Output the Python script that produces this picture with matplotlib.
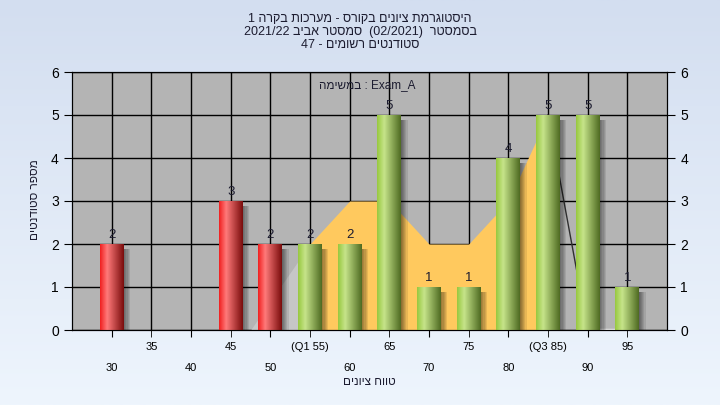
import re
import numpy as np
import matplotlib
matplotlib.use("Agg")
import matplotlib.pyplot as plt
from matplotlib.patches import Rectangle

plt.rcParams['font.family'] = ['Liberation Sans', 'DejaVu Sans']

# data
grades = [30, 35, 40, 45, 50, 55, 60, 65, 70, 75, 80, 85, 90, 95]
counts = [2, 0, 0, 3, 2, 2, 2, 5, 1, 1, 4, 5, 5, 1]
tick_text = ["30", "35", "40", "45", "50", "(Q1 55)", "60", "65", "70", "75",
             "80", "(Q3 85)", "90", "95"]
pass_grade = 55
iqr_x = [55, 60, 65, 70, 75, 80, 85]
iqr_y = [2, 3, 3, 2, 2, 3, 5]
tail_x = [47.5, 55, 55]
tail_y = [0, 2, 0]

title_lines = ["היסטוגרמת ציונים בקורס - מערכות בקרה 1",
               "בסמסטר  (02/2021)  סמסטר אביב 2021/22",
               "סטודנטים רשומים - 47"]
ylabel = "מספר סטודנטים"
xlabel = "טווח ציונים"
task_word = "במשימה"
task_name = "Exam_A"


def rtl(s):
    # matplotlib has no bidi support, so flip the text to visual order
    out = s[::-1]
    out = re.sub(r'[0-9A-Za-z_/.]+', lambda m: m.group(0)[::-1], out)
    return out.translate(str.maketrans('()', ')('))


def gradient(c_left, c_mid, c_right, n=64):
    t = np.linspace(0, 1, n)
    cols = []
    for v in t:
        if v < 0.3:
            a, b, f = c_left, c_mid, v / 0.3
        else:
            a, b, f = c_mid, c_right, (v - 0.3) / 0.7
        cols.append([a[i] + (b[i] - a[i]) * f for i in range(3)])
    return np.array(cols)[None, :, :]


def rgb(h):
    return [int(h[i:i + 2], 16) / 255 for i in (1, 3, 5)]


green = gradient(rgb("#98c840"), rgb("#c6e48a"), rgb("#4f6b22"))
red = gradient(rgb("#f02020"), rgb("#ff7a7a"), rgb("#7a0c0c"))

fig = plt.figure(figsize=(7.2, 4.05), dpi=100)

# background gradient
bg = fig.add_axes([0, 0, 1, 1], zorder=-10)
grad = np.linspace(0, 1, 256)[:, None]
top_c = np.array(rgb("#d3def0"))
bot_c = np.array(rgb("#eef5fd"))
bg.imshow(top_c + (bot_c - top_c) * grad[:, :, None], aspect='auto',
          extent=(0, 1, 0, 1))
bg.axis('off')

ax = fig.add_axes([72 / 720, 75 / 405, 595 / 720, 258 / 405])
ax.set_facecolor("#b4b4b4")
ax.set_axisbelow(True)

ax.fill_between(tail_x, tail_y, color="#c6c6c6", lw=0, zorder=1)
ax.fill_between(iqr_x, iqr_y, color="#ffc95e", lw=0, zorder=1)
ax.plot([85, 90], [5, 0], color="#303030", lw=1, zorder=1.5)
ax.plot([90, 95], [0.02, 0.02], color="#f0f0f0", lw=1, zorder=1.5)

w = 3.0
for g, c in zip(grades, counts):
    if c == 0:
        continue
    # soft shadow
    for k in range(6):
        ax.add_patch(Rectangle((g + w / 2 - 0.2, 0), 0.25 + k * 0.15, c - 0.12,
                               color="black", alpha=0.09, lw=0, zorder=2))
    img = red if g < pass_grade else green
    ax.imshow(img, extent=(g - w / 2, g + w / 2, 0, c), aspect='auto',
              interpolation='bilinear', zorder=3)
    ax.text(g, c + 0.08, str(c), ha='center', va='bottom', fontsize=9.5,
            color="#1c1c30", zorder=4)

ax.set_xlim(25, 100)
ax.set_ylim(0, 6)
ax.set_xticks(grades[0::2], labels=tick_text[0::2])
ax.set_xticks(grades[1::2], labels=tick_text[1::2], minor=True)
ax.tick_params(axis='x', which='major', length=5, pad=19, labelsize=8)
ax.tick_params(axis='x', which='minor', length=5, pad=4, labelsize=8)
ax.set_yticks(range(7))
ax.tick_params(axis='y', length=6, labelsize=10)
ax.grid(True, which='both', color='black', lw=1)
for s in ax.spines.values():
    s.set_color('black')

ax2 = ax.twinx()
ax2.set_ylim(0, 6)
ax2.set_yticks(range(7))
ax2.tick_params(axis='y', length=6, labelsize=10)

ax.text(0.497, 0.95, rtl(task_word) + " : " + task_name, transform=ax.transAxes,
        ha='center', va='center', fontsize=8.5, color="#1c1c30", zorder=5)

ax.set_xlabel(rtl(xlabel), fontsize=8.5, color="#1c1c30", labelpad=2)
fig.text(35 / 720, 1 - 200 / 405, rtl(ylabel), rotation=90, ha='center',
         va='center', fontsize=8.5, color="#1c1c30")

for i, line in enumerate(title_lines):
    fig.text(0.5, 1 - (18.5 + 13.5 * i) / 405, rtl(line), ha='center',
             va='center', fontsize=9, color="#1c1c30")

fig.savefig("out.png", dpi=100)
